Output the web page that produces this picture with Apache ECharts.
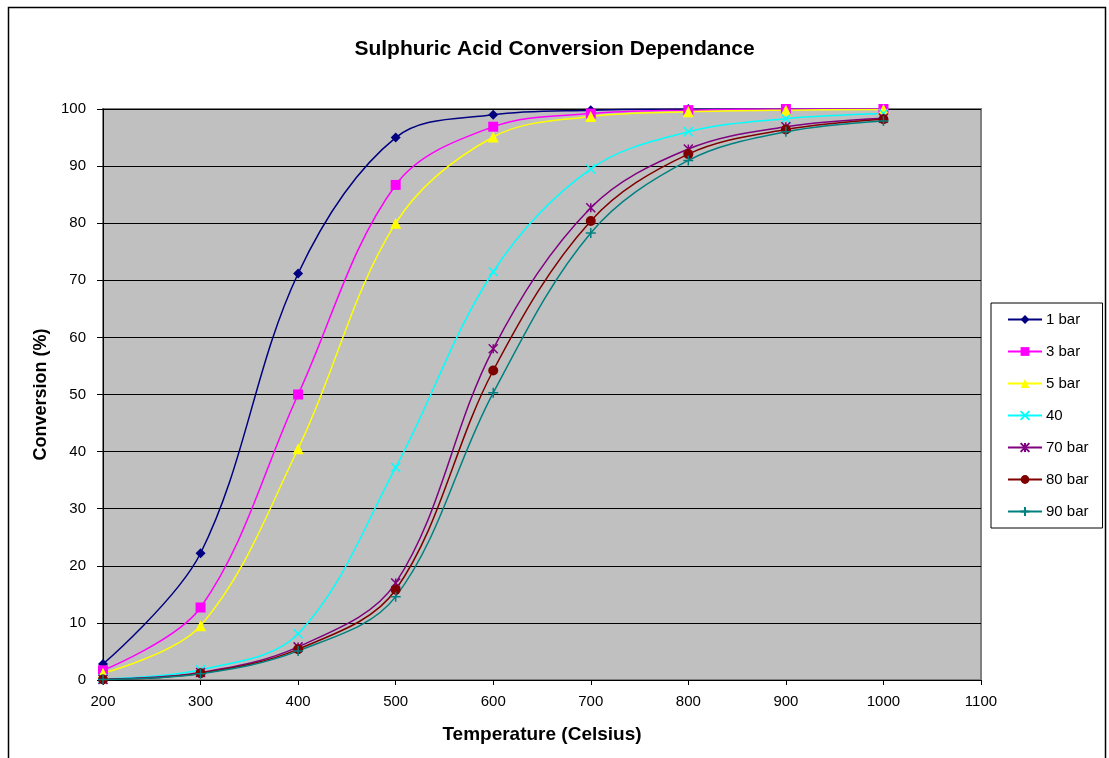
<!DOCTYPE html>
<html>
<head>
<meta charset="utf-8">
<script src="https://cdn.jsdelivr.net/npm/echarts@6/dist/echarts.min.js"></script>
<style>
  html, body { margin: 0; padding: 0; background: #ffffff; }
  #chart { width: 1109px; height: 758px; }
</style>
</head>
<body>
<div id="chart"></div>
<script>
// temperatures (Celsius)
var temps = [200, 300, 400, 500, 600, 700, 800, 900, 1000]

// conversion (%) per pressure
var bar1 = [2.8, 22.2, 71.2, 95.0, 99.0, 99.8, 100, 100, 100]
var bar3 = [1.7, 12.7, 50.0, 86.7, 96.9, 99.2, 99.8, 100, 100]
var bar5 = [1.2, 9.5, 40.5, 80.0, 95.1, 98.7, 99.5, 99.8, 99.9]
var bar40 = [0.2, 1.8, 8.1, 37.2, 71.5, 89.5, 96.0, 98.3, 99.2]
var bar70 = [0.1, 1.3, 5.8, 17.0, 58.0, 82.7, 93.0, 96.9, 98.4]
var bar80 = [0.1, 1.2, 5.4, 15.8, 54.2, 80.4, 92.1, 96.4, 98.2]
var bar90 = [0.1, 1.1, 5.1, 14.6, 50.3, 78.3, 91.0, 96.0, 97.9]

var chart = echarts.init(document.getElementById('chart'))

function pairs(vals) {
  return temps.map(function (t, i) { return [t, vals[i]] })
}

function filled(name, vals, color, symbol, size) {
  return {
    name: name,
    type: 'line',
    data: pairs(vals),
    smooth: 0.35,
    symbol: symbol,
    symbolSize: size,
    itemStyle: { color: color, borderWidth: 0 },
    lineStyle: { color: color, width: 1.5 }
  }
}

function stroked(name, vals, color, path, size) {
  return {
    name: name,
    type: 'line',
    data: pairs(vals),
    smooth: 0.35,
    symbol: path,
    symbolSize: size,
    itemStyle: { color: 'rgba(0,0,0,0)', borderColor: color, borderWidth: 1.5 },
    lineStyle: { color: color, width: 1.5 }
  }
}

var xPath = 'path://M0,0L10,10M10,0L0,10'
var starPath = 'path://M0,0L10,10M10,0L0,10M5,0L5,10'
var plusPath = 'path://M5,0L5,10M0,5L10,5'

chart.setOption({
  backgroundColor: '#ffffff',
  animation: false,
  textStyle: { fontFamily: 'Liberation Sans, Arial, sans-serif' },
  graphic: [{
    type: 'rect',
    shape: { x: 8.5, y: 7.5, width: 1097, height: 770 },
    style: { fill: 'none', stroke: '#000', lineWidth: 1.5 },
    silent: true
  }],
  title: {
    text: 'Sulphuric Acid Conversion Dependance',
    left: 'center',
    top: 34,
    textStyle: { fontSize: 21, fontWeight: 'bold', color: '#000' }
  },
  legend: {
    orient: 'vertical',
    left: 991,
    top: 303,
    padding: [9, 14, 9, 16],
    itemGap: 17,
    itemWidth: 34,
    itemHeight: 11,
    backgroundColor: '#ffffff',
    borderColor: '#000',
    borderWidth: 1,
    textStyle: { fontSize: 15, color: '#000', padding: [0, 0, 0, -1] },
    data: ['1 bar', '3 bar', '5 bar', '40', '70 bar', '80 bar', '90 bar']
  },
  grid: {
    left: 103,
    right: 128,
    top: 109,
    bottom: 78,
    show: true,
    backgroundColor: '#c0c0c0',
    borderColor: '#808080',
    borderWidth: 2
  },
  xAxis: {
    type: 'value',
    min: 200,
    max: 1100,
    interval: 100,
    name: 'Temperature (Celsius)',
    nameLocation: 'middle',
    nameGap: 45,
    nameTextStyle: { fontSize: 19, fontWeight: 'bold', color: '#000' },
    axisLine: { lineStyle: { color: '#000', width: 1 } },
    axisTick: { show: true, length: 5, lineStyle: { color: '#000' } },
    axisLabel: { fontSize: 15, color: '#000', margin: 14, formatter: function (v) { return String(v) } },
    splitLine: { show: false }
  },
  yAxis: {
    type: 'value',
    min: 0,
    max: 100,
    interval: 10,
    name: 'Conversion (%)',
    nameLocation: 'middle',
    nameGap: 53,
    nameTextStyle: { fontSize: 18, fontWeight: 'bold', color: '#000' },
    axisLine: { show: true, lineStyle: { color: '#000', width: 1 } },
    axisTick: { show: true, length: 6, lineStyle: { color: '#000' } },
    axisLabel: { fontSize: 15, color: '#000', margin: 17 },
    splitLine: { show: true, lineStyle: { color: '#000', width: 1 } }
  },
  series: [
    filled('1 bar', bar1, '#000080', 'diamond', 10),
    filled('3 bar', bar3, '#ff00ff', 'rect', 10),
    filled('5 bar', bar5, '#ffff00', 'triangle', 11),
    stroked('40', bar40, '#00ffff', xPath, 9),
    stroked('70 bar', bar70, '#800080', starPath, 9),
    filled('80 bar', bar80, '#800000', 'circle', 10),
    stroked('90 bar', bar90, '#008080', plusPath, 10)
  ]
})
</script>
</body>
</html>
